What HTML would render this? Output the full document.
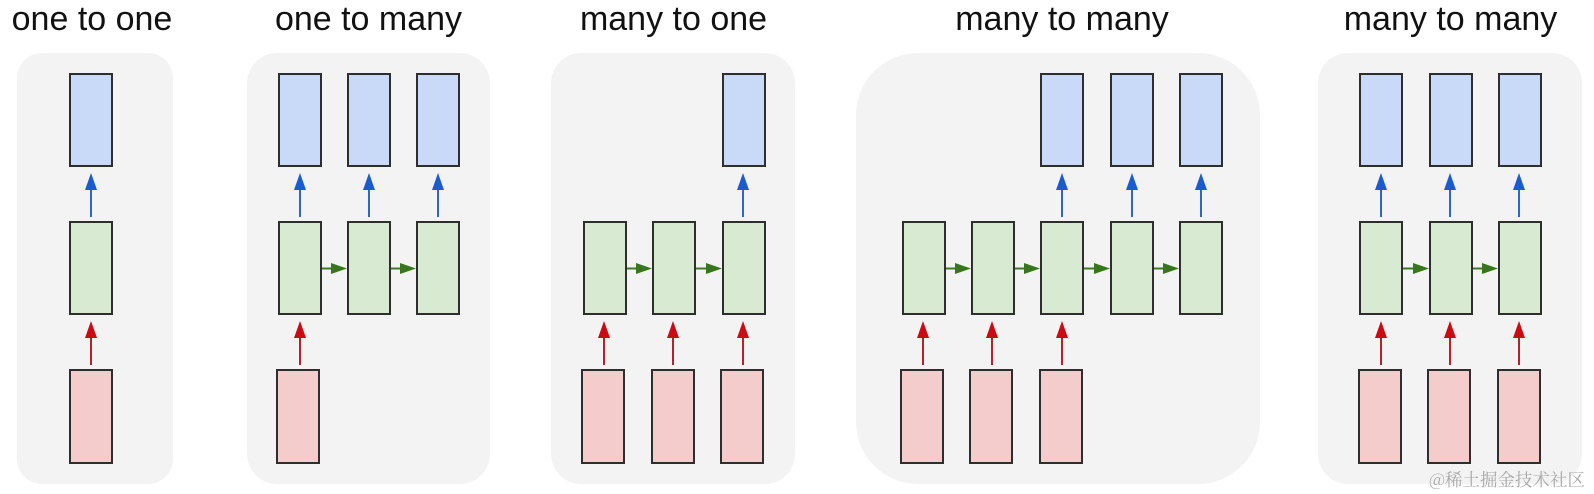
<!DOCTYPE html>
<html>
<head>
<meta charset="utf-8">
<style>
  html, body { margin:0; padding:0; background:#ffffff; }
  body { width:1594px; height:494px; overflow:hidden; }
  svg { display:block; }
  .t { font-family:"Liberation Sans", Arial, sans-serif; font-size:34px; fill:#111; }
  .wm { font-family:"Noto Serif CJK SC", "Liberation Serif", serif; font-size:17.5px; fill:#a8a8a8; }
  .b { fill:#c9daf8; stroke:#2e2e2e; stroke-width:2; }
  .g { fill:#d9ead3; stroke:#2e2e2e; stroke-width:2; }
  .r { fill:#f4cccc; stroke:#2e2e2e; stroke-width:2; }
  .bl { stroke:#2f67c8; stroke-width:2; }
  .rl { stroke:#b8202c; stroke-width:2; }
  .gl { stroke:#3f7a2a; stroke-width:2; }
  .bh { fill:#1a5bd0; }
  .rh { fill:#cc0a14; }
  .gh { fill:#38761d; }
</style>
</head>
<body>
<svg width="1594" height="494" viewBox="0 0 1594 494" xmlns="http://www.w3.org/2000/svg">
  <!-- panels -->
  <rect x="17" y="53" width="156" height="431" rx="25" ry="25" fill="#f3f3f3"/>
  <rect x="247" y="53" width="243" height="431" rx="30" ry="30" fill="#f3f3f3"/>
  <rect x="551" y="53" width="244" height="431" rx="30" ry="30" fill="#f3f3f3"/>
  <rect x="856" y="53" width="404" height="431" rx="62" ry="62" fill="#f3f3f3"/>
  <rect x="1318" y="53" width="264" height="431" rx="30" ry="30" fill="#f3f3f3"/>

  <!-- titles -->
  <text class="t" x="92" y="30" text-anchor="middle">one to one</text>
  <text class="t" x="368.5" y="30" text-anchor="middle">one to many</text>
  <text class="t" x="673.5" y="30" text-anchor="middle">many to one</text>
  <text class="t" x="1062" y="30" text-anchor="middle">many to many</text>
  <text class="t" x="1450.5" y="30" text-anchor="middle">many to many</text>

  <!-- ===== Panel 1 ===== -->
  <rect class="b" x="70" y="74" width="42" height="92"/>
  <rect class="g" x="70" y="222" width="42" height="92"/>
  <rect class="r" x="70" y="370" width="42" height="93"/>
  <line class="bl" x1="91" y1="188" x2="91" y2="217"/>
  <polygon class="bh" points="91,173 85,190 97,190"/>
  <line class="rl" x1="91" y1="336" x2="91" y2="365"/>
  <polygon class="rh" points="91,321 85,338 97,338"/>

  <!-- ===== Panel 2 ===== -->
  <rect class="b" x="279" y="74" width="42" height="92"/>
  <rect class="b" x="348" y="74" width="42" height="92"/>
  <rect class="b" x="417" y="74" width="42" height="92"/>
  <rect class="g" x="279" y="222" width="42" height="92"/>
  <rect class="g" x="348" y="222" width="42" height="92"/>
  <rect class="g" x="417" y="222" width="42" height="92"/>
  <rect class="r" x="277" y="370" width="42" height="93"/>
  <g>
    <line class="bl" x1="300" y1="188" x2="300" y2="217"/><polygon class="bh" points="300,173 294,190 306,190"/>
    <line class="bl" x1="369" y1="188" x2="369" y2="217"/><polygon class="bh" points="369,173 363,190 375,190"/>
    <line class="bl" x1="438" y1="188" x2="438" y2="217"/><polygon class="bh" points="438,173 432,190 444,190"/>
    <line class="rl" x1="300" y1="336" x2="300" y2="365"/><polygon class="rh" points="300,321 294,338 306,338"/>
    <line class="gl" x1="322" y1="268.5" x2="333" y2="268.5"/><polygon class="gh" points="347,268.5 331,263 331,274"/>
    <line class="gl" x1="391" y1="268.5" x2="402" y2="268.5"/><polygon class="gh" points="416,268.5 400,263 400,274"/>
  </g>

  <!-- ===== Panel 3 ===== -->
  <rect class="b" x="723" y="74" width="42" height="92"/>
  <rect class="g" x="584" y="222" width="42" height="92"/>
  <rect class="g" x="653" y="222" width="42" height="92"/>
  <rect class="g" x="723" y="222" width="42" height="92"/>
  <rect class="r" x="582" y="370" width="42" height="93"/>
  <rect class="r" x="652" y="370" width="42" height="93"/>
  <rect class="r" x="721" y="370" width="42" height="93"/>
  <g>
    <line class="bl" x1="743" y1="188" x2="743" y2="217"/><polygon class="bh" points="743,173 737,190 749,190"/>
    <line class="rl" x1="604" y1="336" x2="604" y2="365"/><polygon class="rh" points="604,321 598,338 610,338"/>
    <line class="rl" x1="673" y1="336" x2="673" y2="365"/><polygon class="rh" points="673,321 667,338 679,338"/>
    <line class="rl" x1="743" y1="336" x2="743" y2="365"/><polygon class="rh" points="743,321 737,338 749,338"/>
    <line class="gl" x1="627" y1="268.5" x2="638" y2="268.5"/><polygon class="gh" points="652,268.5 636,263 636,274"/>
    <line class="gl" x1="696" y1="268.5" x2="707" y2="268.5"/><polygon class="gh" points="722,268.5 706,263 706,274"/>
  </g>

  <!-- ===== Panel 4 ===== -->
  <rect class="b" x="1041" y="74" width="42" height="92"/>
  <rect class="b" x="1111" y="74" width="42" height="92"/>
  <rect class="b" x="1180" y="74" width="42" height="92"/>
  <rect class="g" x="903" y="222" width="42" height="92"/>
  <rect class="g" x="972" y="222" width="42" height="92"/>
  <rect class="g" x="1041" y="222" width="42" height="92"/>
  <rect class="g" x="1111" y="222" width="42" height="92"/>
  <rect class="g" x="1180" y="222" width="42" height="92"/>
  <rect class="r" x="901" y="370" width="42" height="93"/>
  <rect class="r" x="970" y="370" width="42" height="93"/>
  <rect class="r" x="1040" y="370" width="42" height="93"/>
  <g>
    <line class="bl" x1="1062" y1="188" x2="1062" y2="217"/><polygon class="bh" points="1062,173 1056,190 1068,190"/>
    <line class="bl" x1="1132" y1="188" x2="1132" y2="217"/><polygon class="bh" points="1132,173 1126,190 1138,190"/>
    <line class="bl" x1="1201" y1="188" x2="1201" y2="217"/><polygon class="bh" points="1201,173 1195,190 1207,190"/>
    <line class="rl" x1="923" y1="336" x2="923" y2="365"/><polygon class="rh" points="923,321 917,338 929,338"/>
    <line class="rl" x1="992" y1="336" x2="992" y2="365"/><polygon class="rh" points="992,321 986,338 998,338"/>
    <line class="rl" x1="1062" y1="336" x2="1062" y2="365"/><polygon class="rh" points="1062,321 1056,338 1068,338"/>
    <line class="gl" x1="946" y1="268.5" x2="957" y2="268.5"/><polygon class="gh" points="971,268.5 955,263 955,274"/>
    <line class="gl" x1="1015" y1="268.5" x2="1026" y2="268.5"/><polygon class="gh" points="1040,268.5 1024,263 1024,274"/>
    <line class="gl" x1="1084" y1="268.5" x2="1096" y2="268.5"/><polygon class="gh" points="1110,268.5 1094,263 1094,274"/>
    <line class="gl" x1="1154" y1="268.5" x2="1165" y2="268.5"/><polygon class="gh" points="1179,268.5 1163,263 1163,274"/>
  </g>

  <!-- ===== Panel 5 ===== -->
  <rect class="b" x="1360" y="74" width="42" height="92"/>
  <rect class="b" x="1430" y="74" width="42" height="92"/>
  <rect class="b" x="1499" y="74" width="42" height="92"/>
  <rect class="g" x="1360" y="222" width="42" height="92"/>
  <rect class="g" x="1430" y="222" width="42" height="92"/>
  <rect class="g" x="1499" y="222" width="42" height="92"/>
  <rect class="r" x="1359" y="370" width="42" height="93"/>
  <rect class="r" x="1428" y="370" width="42" height="93"/>
  <rect class="r" x="1498" y="370" width="42" height="93"/>
  <g>
    <line class="bl" x1="1381" y1="188" x2="1381" y2="217"/><polygon class="bh" points="1381,173 1375,190 1387,190"/>
    <line class="bl" x1="1450" y1="188" x2="1450" y2="217"/><polygon class="bh" points="1450,173 1444,190 1456,190"/>
    <line class="bl" x1="1519" y1="188" x2="1519" y2="217"/><polygon class="bh" points="1519,173 1513,190 1525,190"/>
    <line class="rl" x1="1381" y1="336" x2="1381" y2="365"/><polygon class="rh" points="1381,321 1375,338 1387,338"/>
    <line class="rl" x1="1450" y1="336" x2="1450" y2="365"/><polygon class="rh" points="1450,321 1444,338 1456,338"/>
    <line class="rl" x1="1519" y1="336" x2="1519" y2="365"/><polygon class="rh" points="1519,321 1513,338 1525,338"/>
    <line class="gl" x1="1403" y1="268.5" x2="1415" y2="268.5"/><polygon class="gh" points="1429,268.5 1413,263 1413,274"/>
    <line class="gl" x1="1473" y1="268.5" x2="1484" y2="268.5"/><polygon class="gh" points="1498,268.5 1482,263 1482,274"/>
  </g>

  <!-- watermark -->
  <text class="wm" x="1429" y="486">@稀土掘金技术社区</text>
</svg>
</body>
</html>
